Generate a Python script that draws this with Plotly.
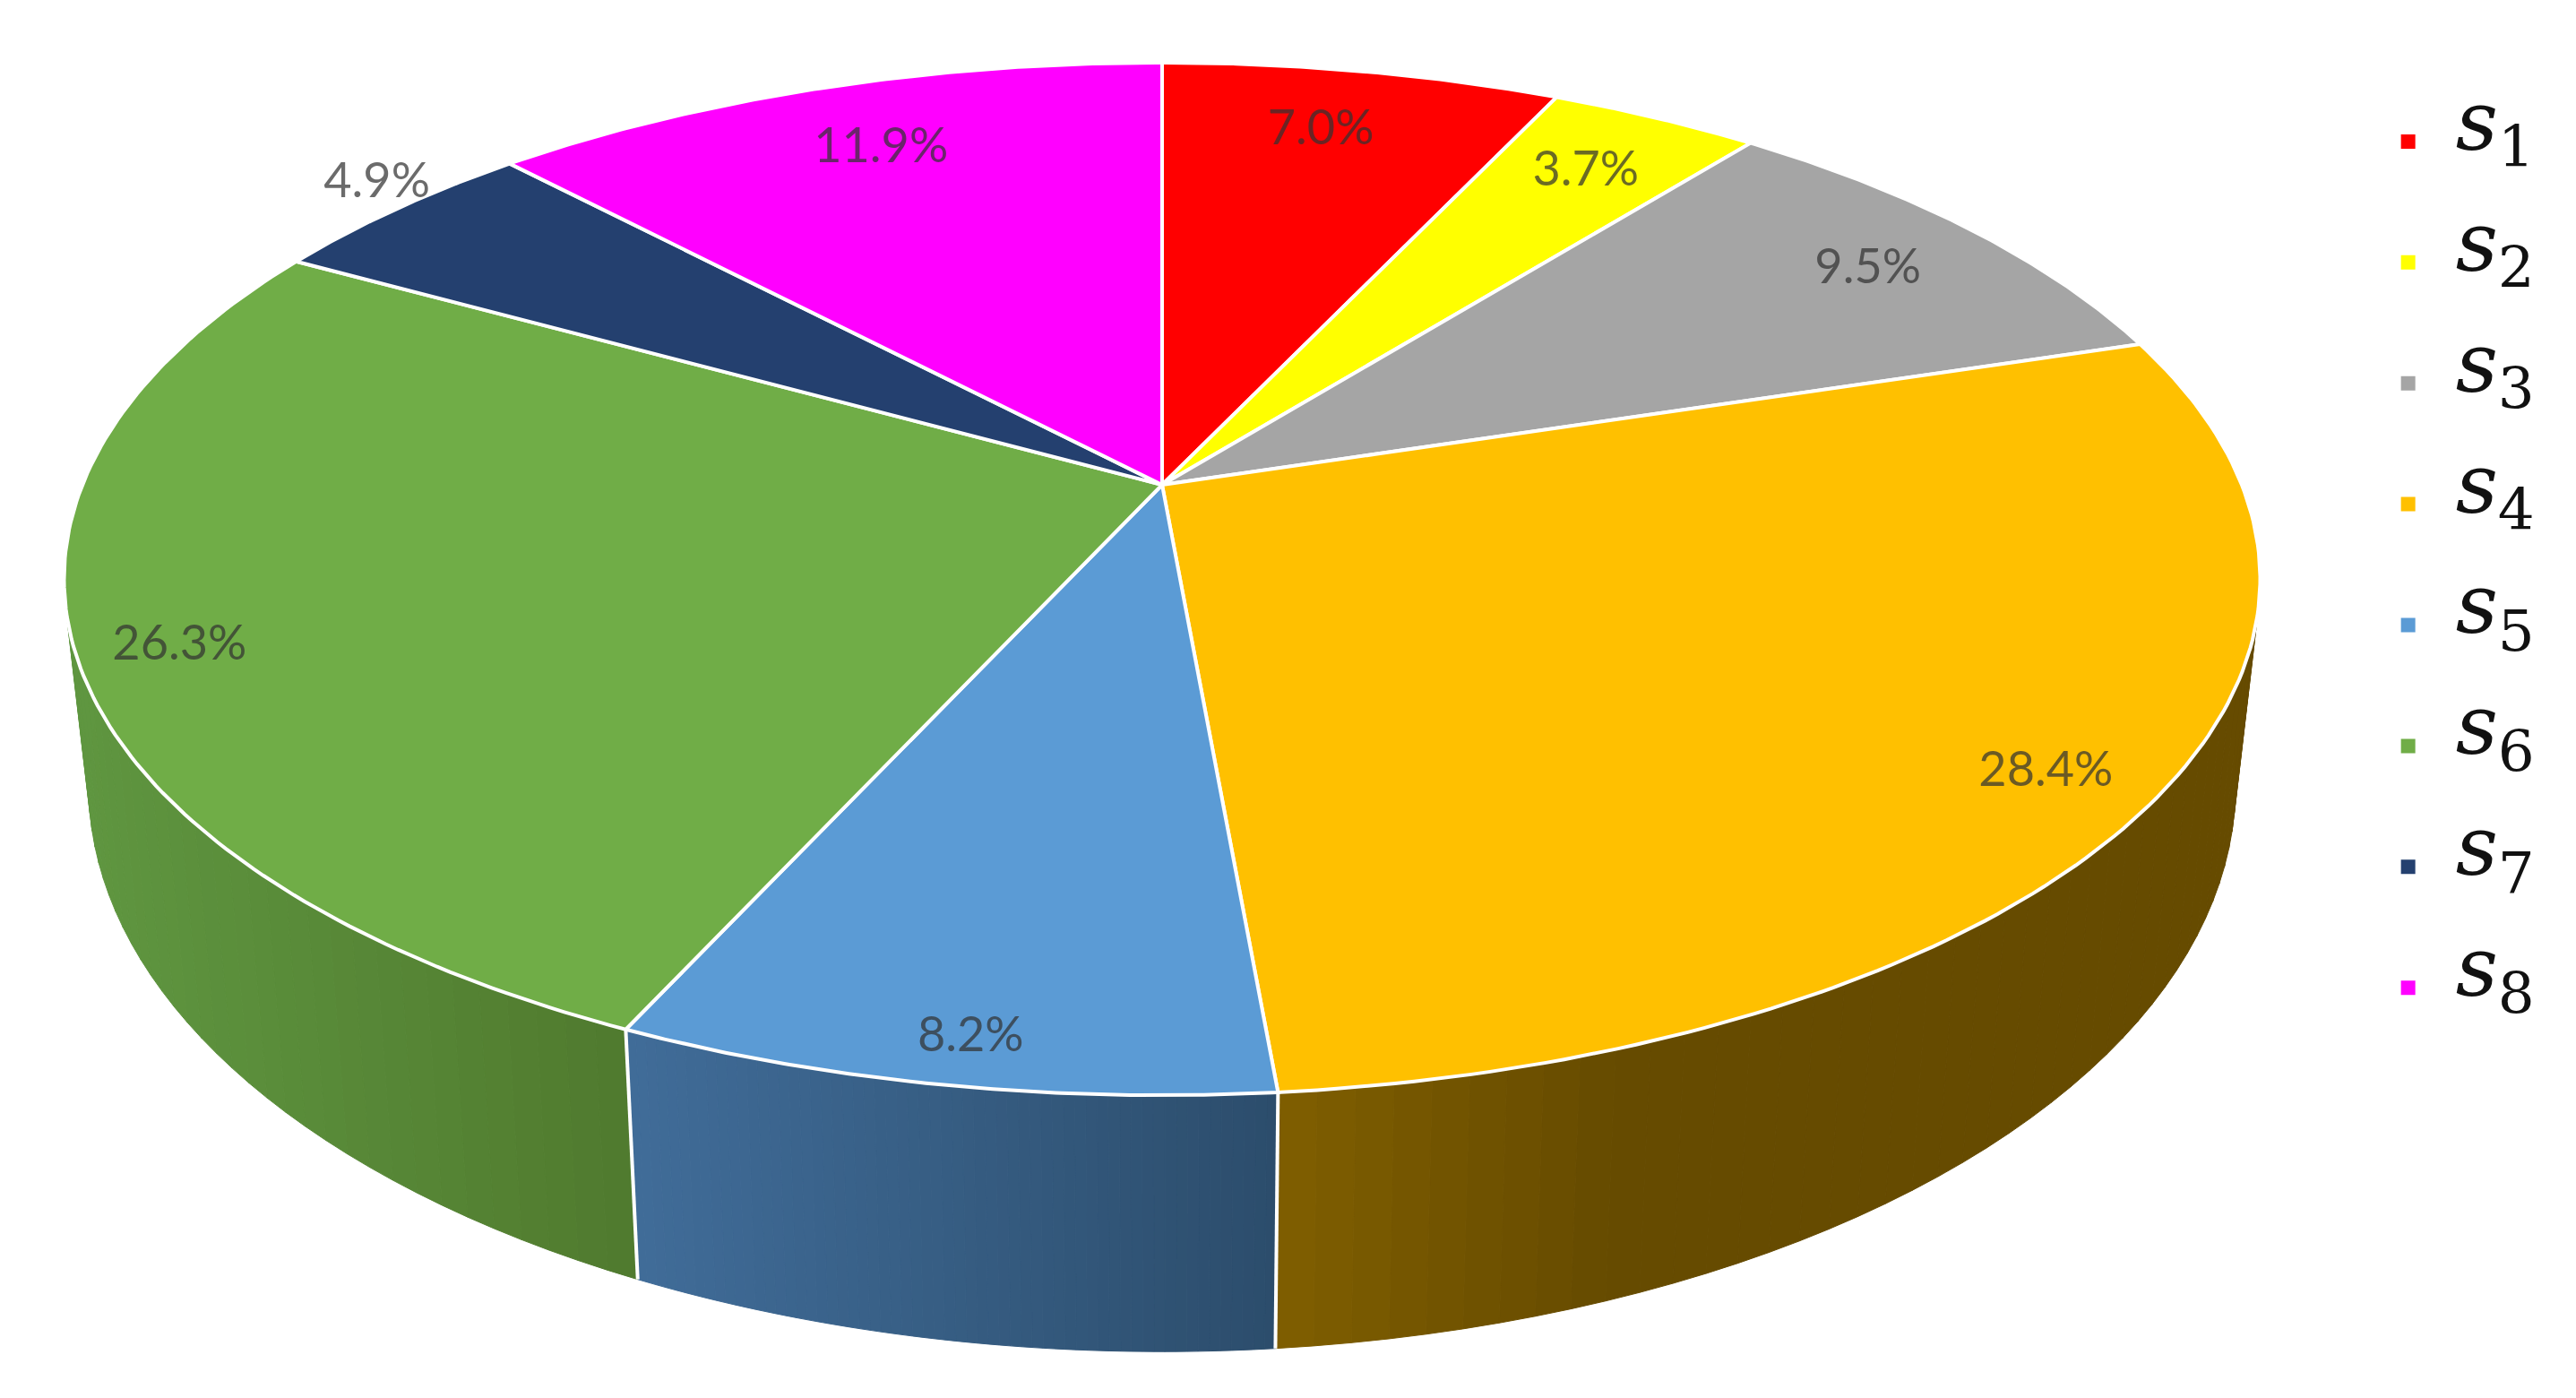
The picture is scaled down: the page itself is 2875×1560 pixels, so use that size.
import numpy as np
import plotly.graph_objects as go

# chart data
series = ["1", "2", "3", "4", "5", "6", "7", "8"]
shares = [7.0, 3.7, 9.5, 28.4, 8.2, 26.3, 4.9, 11.9]
colors = ["#FF0000", "#FFFF00", "#A5A5A5", "#FFC000", "#5B9BD5", "#70AD47", "#24406F", "#FF00FF"]

# label placement: radius on the disc, then a small nudge in pixels
label_radius = [0.84, 0.84, 0.86, 0.90, 0.925, 0.91, 1.07, 0.83]
label_dx = [-15, 0, 2, -5, 12, 2, 31, 9]
label_dy = [4, 4, 10, 15, 9, 15, -7, 3]

# side wall shading of the slices that face the viewer: index, left colour, right colour, x span
walls = [
    (3, "#7F5E00", "#664B00", (1430, 1800)),
    (4, "#406C98", "#2C4D6C", (712, 1424)),
    (5, "#5F9640", "#507A2E", (80, 700)),
]

W, H = 2875, 1560
CX, CY = 1297, 541  # where the slices meet
K = 0.1823  # perspective of the tilted disc
TOP_A, TOP_B = 1205, 557
BOT_A, BOT_B, BOT_DY = 1178, 611, 220


def project(theta, r=1.0, bottom=False):
    # clockwise angle from 12 o'clock to picture position
    px = r * np.sin(theta)
    py = r * np.cos(theta)
    d = 1 + K * py
    if bottom:
        return CX + BOT_A * px / d, CY + BOT_DY - BOT_B * py / d
    return CX + TOP_A * px / d, CY - TOP_B * py / d


def hex_rgb(c):
    return np.array([int(c[i:i + 2], 16) for i in (1, 3, 5)], dtype=float)


def mix(c0, c1, t):
    rgb = hex_rgb(c0) * (1 - t) + hex_rgb(c1) * t
    return "rgb(%d,%d,%d)" % tuple(rgb.round())


def legend_spacer(group):
    # blank row, keeps the tall glyphs of the first and last entry inside the legend box
    return go.Scatter(
        x=[None], y=[None], mode="markers",
        marker=dict(color="white", size=1, line=dict(color="white", width=0)),
        name=" ", legendgroup=group,
    )


# the shares are percentages that round to 99.9, the last slice closes the circle
edges = 2 * np.pi * np.cumsum([0] + shares) / 100
edges[-1] = 2 * np.pi

fig = go.Figure()

# side walls, drawn as thin strips so the shading can change along x
for idx, left, right, span in walls:
    th = np.linspace(edges[idx], edges[idx + 1], 61)
    for a, b in zip(th[:-1], th[1:]):
        x0, y0 = project(a)
        x1, y1 = project(b)
        x2, y2 = project(b, bottom=True)
        x3, y3 = project(a, bottom=True)
        t = np.clip(((x0 + x1) / 2 - span[0]) / (span[1] - span[0]), 0, 1)
        col = mix(left, right, t)
        fig.add_trace(
            go.Scatter(
                x=[x0, x1, x2, x3, x0],
                y=[y0, y1, y2, y3, y0],
                mode="lines",
                fill="toself",
                fillcolor=col,
                line=dict(color=col, width=1),
                hoverinfo="skip",
                showlegend=False,
            )
        )

# white seams between the walls
for theta in edges[4:6]:
    x0, y0 = project(theta)
    x1, y1 = project(theta, bottom=True)
    fig.add_trace(
        go.Scatter(
            x=[x0, x1], y=[y0, y1], mode="lines",
            line=dict(color="white", width=4), hoverinfo="skip", showlegend=False,
        )
    )

# top face
for i, name in enumerate(series):
    th = np.linspace(edges[i], edges[i + 1], 120)
    x, y = project(th)
    fig.add_trace(
        go.Scatter(
            x=np.r_[CX, x, CX],
            y=np.r_[CY, y, CY],
            mode="lines",
            fill="toself",
            fillcolor=colors[i],
            line=dict(color="white", width=4),
            name="s" + name,
            hoverinfo="name",
            showlegend=False,
        )
    )

# percent labels
mids = (edges[:-1] + edges[1:]) / 2
lx, ly = project(mids, np.array(label_radius))
fig.add_trace(
    go.Scatter(
        x=lx + np.array(label_dx),
        y=ly + np.array(label_dy),
        mode="text",
        text=["%.1f%%" % v for v in shares],
        textposition="middle center",
        textfont=dict(family="Lato", size=54, color="rgba(50,50,50,0.72)"),
        hoverinfo="skip",
        showlegend=False,
    )
)

# legend entries; the small legend font only sets the baseline, the span sets the glyph size
fig.add_trace(legend_spacer("start"))
for i, name in enumerate(series):
    fig.add_trace(
        go.Scatter(
            x=[None],
            y=[None],
            mode="markers",
            marker=dict(symbol="square", size=20, color=colors[i]),
            name="<span style='font-size:92px'><i>s</i><sub>%s</sub></span>" % name,
            legendgroup=name,
        )
    )
fig.add_trace(legend_spacer("end"))

fig.update_layout(
    width=W,
    height=H,
    margin=dict(l=0, r=0, t=0, b=0),
    paper_bgcolor="white",
    plot_bgcolor="white",
    xaxis=dict(range=[0, W], visible=False),
    yaxis=dict(range=[H, 0], visible=False),
    legend=dict(
        x=0.9164,
        y=0.999,
        xanchor="left",
        yanchor="top",
        font=dict(family="DejaVu Serif", size=23, color="#111111"),
        tracegroupgap=102,
        itemwidth=96,
        bgcolor="rgba(0,0,0,0)",
    ),
)

fig.write_html(
    "out.html",
    config=dict(displayModeBar=False),
    post_script="document.body.style.margin='0';",
)
